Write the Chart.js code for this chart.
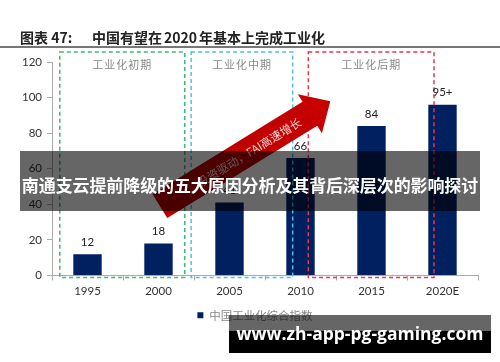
<!DOCTYPE html>
<html lang="zh-CN">
<head>
<meta charset="utf-8">
<title>中国有望在2020年基本上完成工业化</title>
<script src="https://cdn.jsdelivr.net/npm/chart.js@4.4.1/dist/chart.umd.min.js"></script>
<style>
  html, body { margin: 0; padding: 0; background: #fff; }
  #wrap { position: relative; width: 500px; height: 362px; overflow: hidden; font-family: 'Noto Sans CJK SC', sans-serif; }
  #chartBox { position: absolute; left: 0; top: 0; width: 500px; height: 362px; }
  .title { position: absolute; left: 20px; top: 27px; font-size: 14px; font-weight: bold; color: #222; white-space: nowrap; line-height: 20px; }
  .title .no { display: inline-block; width: 72px; }
  .title .num { margin: 0 2px; }
  .rule { position: absolute; left: 0; top: 46px; width: 500px; border-top: 2px solid #777; }
  .banner { position: absolute; left: 20px; top: 151px; width: 460px; height: 60px; background: rgba(0, 0, 0, 0.6);
            color: #fff; font-weight: bold; font-size: 17px; line-height: 68px; text-align: center; white-space: nowrap; letter-spacing: -0.1px; }
  .mark { position: absolute; left: 229px; top: 315px; width: 262px; height: 38px; background: rgba(0, 0, 0, 0.6); }
  .mark .bg { position: absolute; left: 0; top: 16px; right: 0; bottom: 0; background: #000; }
  .mark .txt { position: absolute; left: 0; right: 0; top: 5px; text-align: center; color: #fff; font-family: 'Open Sans', sans-serif;
               font-weight: 700; font-size: 17.5px; line-height: 26px; white-space: nowrap; }
</style>
</head>
<body>
<div id="wrap">
  <div id="chartBox"><canvas id="mainChart"></canvas></div>
  <div class="title"><span class="no">图表 47:</span>中国有望在<span class="num">2020</span>年基本上完成工业化</div>
  <div class="rule"></div>
  <div class="banner">南通支云提前降级的五大原因分析及其背后深层次的影响探讨</div>
  <div class="mark"><div class="bg"></div><div class="txt">www.zh-app-pg-gaming.com</div></div>
</div>
<script>
// ===== 数据 =====
const years = ['1995', '2000', '2005', '2010', '2015', '2020E'];
const indexValues = [12, 18, 41, 66, 84, 96];
const valueLabels = ['12', '18', '41', '66', '84', '95+'];
const yTicks = [0, 20, 40, 60, 80, 100, 120];
const seriesName = '中国工业化综合指数';
const phaseNames = ['工业化初期', '工业化中期', '工业化后期'];
const arrowText = '投资驱动，FAI高速增长';

// ===== 标注位置（按类目序号 / 数值） =====
const phaseStart = [-0.39, 1.46, 3.11];
const phaseEnd = [1.37, 2.89, 4.88];
const phaseColors = ['#3cb878', '#4cc0e6', '#e8364c'];
const arrowFrom = [1.02, 39];
const arrowTo = [3.42, 98];

const FONT = "'Lato', 'Noto Sans CJK SC', sans-serif";
const CJK = "'Noto Sans CJK SC', sans-serif";

const overlayPlugin = {
  id: 'overlay',
  // 图例略微右移
  afterLayout(chart) {
    if (chart.legend) {
      chart.legend.left += 10;
      chart.legend.right += 10;
    }
  },
  afterDatasetsDraw(chart) {
    const { ctx, scales: { x, y } } = chart;
    ctx.save();

    // 阶段虚线框
    const top = y.getPixelForValue(125.6);
    const bottom = y.getPixelForValue(-1.1);
    phaseNames.forEach((name, i) => {
      const l = x.getPixelForValue(phaseStart[i]);
      const r = x.getPixelForValue(phaseEnd[i]);
      ctx.setLineDash([4, 3]);
      ctx.lineWidth = 1.5;
      ctx.strokeStyle = phaseColors[i];
      ctx.strokeRect(l, top, r - l, bottom - top);
      ctx.setLineDash([]);
      ctx.fillStyle = '#888';
      ctx.font = '11px ' + CJK;
      ctx.letterSpacing = '1px';
      ctx.textAlign = 'center';
      ctx.textBaseline = 'middle';
      ctx.fillText(name, (l + r) / 2, y.getPixelForValue(118.3));
    });
    ctx.letterSpacing = '0px';

    // 数值标签
    const meta = chart.getDatasetMeta(0);
    ctx.fillStyle = '#222';
    ctx.font = '11.5px ' + FONT;
    ctx.textAlign = 'center';
    ctx.textBaseline = 'middle';
    meta.data.forEach((bar, i) => {
      ctx.fillText(valueLabels[i], bar.x, bar.y - 12);
    });

    // 红色箭头
    const x0 = x.getPixelForValue(arrowFrom[0]), y0 = y.getPixelForValue(arrowFrom[1]);
    const x1 = x.getPixelForValue(arrowTo[0]), y1 = y.getPixelForValue(arrowTo[1]);
    const len = Math.hypot(x1 - x0, y1 - y0);
    const headLen = 24, headHalf = 23, bodyHalf = 14;
    ctx.translate(x0, y0);
    ctx.rotate(Math.atan2(y1 - y0, x1 - x0));
    const grad = ctx.createLinearGradient(0, 0, len, 0);
    grad.addColorStop(0, '#b80000');
    grad.addColorStop(1, '#c80000');
    ctx.fillStyle = grad;
    ctx.beginPath();
    ctx.moveTo(0, -bodyHalf);
    ctx.lineTo(len - headLen, -bodyHalf);
    ctx.lineTo(len - headLen, -headHalf);
    ctx.lineTo(len, 0);
    ctx.lineTo(len - headLen, headHalf);
    ctx.lineTo(len - headLen, bodyHalf);
    ctx.lineTo(0, bodyHalf);
    ctx.closePath();
    ctx.fill();
    ctx.fillStyle = '#f6d6d6';
    ctx.font = '11.5px ' + CJK;
    ctx.textAlign = 'right';
    ctx.textBaseline = 'middle';
    ctx.fillText(arrowText, len - headLen - 12, 1);

    ctx.restore();
  }
};

new Chart(document.getElementById('mainChart'), {
  type: 'bar',
  data: {
    labels: years,
    datasets: [
      {
        label: seriesName,
        data: indexValues,
        backgroundColor: '#002060',
        borderWidth: 0,
        categoryPercentage: 1,
        barPercentage: 0.4,
      },
    ],
  },
  options: {
    responsive: true,
    maintainAspectRatio: false,
    animation: false,
    layout: { padding: { left: 12, right: 22, top: 62, bottom: 31 } },
    scales: {
      x: {
        grid: { display: true, drawOnChartArea: false, drawTicks: true, tickLength: 5, color: '#aaa' },
        border: { color: '#aaa' },
        ticks: { color: '#333', font: { size: 11.5, family: FONT }, padding: 4 },
        afterFit: (axis) => { axis.height = 26; },
      },
      y: {
        min: 0,
        max: 120,
        afterBuildTicks: (axis) => { axis.ticks = yTicks.map((v) => ({ value: v })); },
        grid: { display: true, drawOnChartArea: false, drawTicks: true, tickLength: 5, color: '#aaa' },
        border: { color: '#aaa' },
        ticks: { color: '#333', font: { size: 11.5, family: FONT }, padding: 5 },
        afterFit: (axis) => { axis.width = 40; },
      },
    },
    plugins: {
      tooltip: { enabled: false },
      legend: {
        position: 'bottom',
        labels: {
          boxWidth: 6,
          boxHeight: 6,
          padding: 8,
          color: '#888',
          font: { size: 11.5, family: CJK },
        },
      },
    },
  },
  plugins: [overlayPlugin],
});
</script>
</body>
</html>
